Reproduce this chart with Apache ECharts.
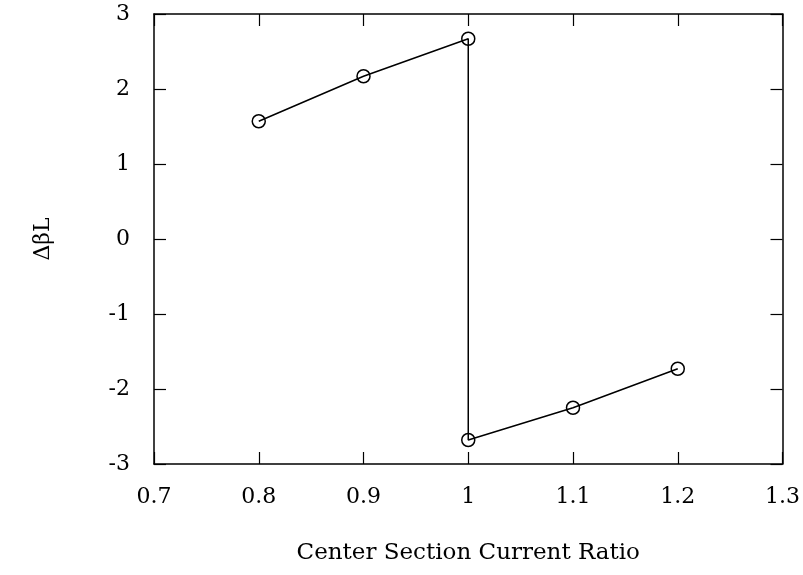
<!DOCTYPE html>
<html>
<head>
<meta charset="utf-8">
<script src="https://cdn.jsdelivr.net/npm/echarts@6/dist/echarts.min.js"></script>
<style>
  html, body { margin: 0; padding: 0; background: #fff; }
  #chart { width: 803px; height: 575px; }
</style>
</head>
<body>
<div id="chart"></div>
<script>
// center section current ratio vs delta beta L
const ratio = [0.8, 0.9, 1.0, 1.0, 1.1, 1.2]
const deltaBetaL = [1.57, 2.17, 2.67, -2.68, -2.25, -1.73]
const xTicks = [0.7, 1.3, 0.1]
const yTicks = [-3, 3, 1]

const font = '"DejaVu Serif", "Liberation Serif", serif'
const chart = echarts.init(document.getElementById('chart'))

const tickStyle = { show: true, inside: true, length: 12, lineStyle: { color: '#000', width: 1.2 } }
const lineStyle = { onZero: false, lineStyle: { color: '#000', width: 1.5 } }

chart.setOption({
  animation: false,
  grid: { left: 154, right: 20, top: 14, bottom: 111, containLabel: false },
  xAxis: [
    {
      type: 'value', min: xTicks[0], max: xTicks[1], interval: xTicks[2],
      name: 'Center Section Current Ratio', nameLocation: 'middle', nameGap: 78,
      nameTextStyle: { fontFamily: font, fontSize: 23, color: '#000' },
      axisLine: lineStyle, axisTick: tickStyle,
      axisLabel: { fontFamily: font, fontSize: 22, color: '#000', margin: 22 },
      splitLine: { show: false }
    },
    {
      type: 'value', position: 'top', min: xTicks[0], max: xTicks[1], interval: xTicks[2],
      axisLine: lineStyle, axisTick: tickStyle, axisLabel: { show: false }, splitLine: { show: false }
    }
  ],
  yAxis: [
    {
      type: 'value', min: yTicks[0], max: yTicks[1], interval: yTicks[2],
      name: 'ΔβL', nameLocation: 'middle', nameGap: 100,
      nameTextStyle: { fontFamily: font, fontSize: 22, color: '#000' },
      axisLine: lineStyle, axisTick: tickStyle,
      axisLabel: { fontFamily: font, fontSize: 22, color: '#000', margin: 24 },
      splitLine: { show: false }
    },
    {
      type: 'value', position: 'right', min: yTicks[0], max: yTicks[1], interval: yTicks[2],
      axisLine: lineStyle, axisTick: tickStyle, axisLabel: { show: false }, splitLine: { show: false }
    }
  ],
  series: [
    {
      type: 'line',
      data: ratio.map((r, i) => [r, deltaBetaL[i]]),
      symbol: 'circle',
      symbolSize: 13,
      itemStyle: { color: 'transparent', borderColor: '#000', borderWidth: 1.5 },
      lineStyle: { color: '#000', width: 1.5 }
    }
  ]
})
</script>
</body>
</html>
